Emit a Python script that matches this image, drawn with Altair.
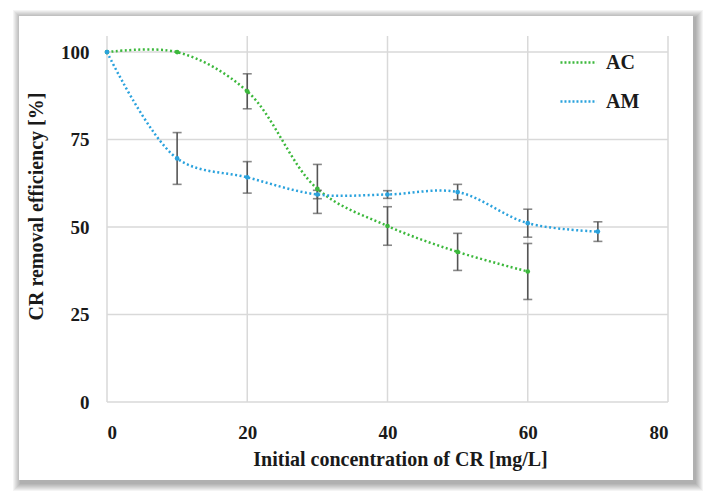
import altair as alt
import pandas as pd

# ---- data ----
ac_x = [0, 10, 20, 30, 40, 50, 60]
ac_y = [100, 100, 88.8, 60.9, 50.3, 42.9, 37.3]
ac_err = [0, 0, 5.0, 7.0, 5.5, 5.3, 8.0]

am_x = [0, 10, 20, 30, 40, 50, 60, 70]
am_y = [100, 69.6, 64.2, 59.3, 59.3, 60.0, 51.1, 48.7]
am_err = [0, 7.4, 4.5, 1.2, 1.1, 2.2, 4.0, 2.8]

series_names = ["AC", "AM"]
series_colors = ["#3cb83c", "#2aa2dd"]
x_ticks = [0, 20, 40, 60, 80]
y_ticks = [0, 25, 50, 75, 100]

rows = []
for x, y, e in zip(ac_x, ac_y, ac_err):
    rows.append({"series": "AC", "x": x, "y": y, "lo": y - e, "hi": y + e, "err": e})
for x, y, e in zip(am_x, am_y, am_err):
    rows.append({"series": "AM", "x": x, "y": y, "lo": y - e, "hi": y + e, "err": e})
df = pd.DataFrame(rows)
df_err = df[df["err"] > 0]
df_xt = pd.DataFrame({"v": x_ticks})
df_yt = pd.DataFrame({"v": y_ticks})

FONT = "Liberation Serif"
W, H = 561, 366
GRID = "#d9d9d9"

xs = alt.Scale(domain=[0, 80], nice=False)
ys = alt.Scale(domain=[0, 104.6], nice=False)
color = alt.Color(
    "series:N",
    scale=alt.Scale(domain=series_names, range=series_colors),
    legend=alt.Legend(
        title=None,
        orient="none",
        legendX=452,
        legendY=7,
        symbolType="stroke",
        symbolStrokeWidth=2.5,
        symbolDash=[2, 2],
        symbolSize=1300,
        labelFont=FONT,
        labelFontSize=20,
        labelFontWeight="bold",
        labelColor="#1a1a1a",
        rowPadding=9,
        labelOffset=8,
    ),
)

# ---- decorative card with soft shadow ----
deco_df = pd.DataFrame({"k": [0]})
shadows = []
for i in range(8):
    d = 8 - i
    shadows.append(
        alt.Chart(deco_df).mark_rect(color="#000000", opacity=0.045, clip=False).encode(
            x=alt.value(-88 - d + 2), x2=alt.value(586 + d + 2),
            y=alt.value(-20 - d + 2), y2=alt.value(444 + d + 3),
        )
    )
card = alt.Chart(deco_df).mark_rect(color="#ffffff", clip=False).encode(
    x=alt.value(-88), x2=alt.value(586), y=alt.value(-20), y2=alt.value(444)
)

vgrid = alt.Chart(df_xt).mark_rule(color=GRID, strokeWidth=1.5).encode(
    x=alt.X("v:Q", scale=xs), y=alt.value(0), y2=alt.value(H)
)
hgrid = alt.Chart(df_yt).mark_rule(color=GRID, strokeWidth=1.5).encode(
    y=alt.Y("v:Q", scale=ys), x=alt.value(0), x2=alt.value(W)
)

base = alt.Chart(df)

lines = base.mark_line(
    interpolate="catmull-rom", strokeDash=[2, 2.5], strokeWidth=2.5
).encode(
    x=alt.X(
        "x:Q", scale=xs,
        axis=alt.Axis(
            values=x_ticks, title="Initial concentration of CR [mg/L]",
            grid=False, domain=False, ticks=False, zindex=1,
            labelFont=FONT, labelFontSize=19, labelFontWeight="bold", labelColor="#1a1a1a",
            labelPadding=21,
            titleFont=FONT, titleFontSize=20, titleFontWeight="bold", titleColor="#1a1a1a",
            titlePadding=7, titleX=293,
        ),
    ),
    y=alt.Y(
        "y:Q", scale=ys,
        axis=alt.Axis(
            values=y_ticks, title="CR removal efficiency  [%]",
            grid=False, domain=False, ticks=False, zindex=1,
            labelFont=FONT, labelFontSize=19, labelFontWeight="bold", labelColor="#1a1a1a",
            labelPadding=18,
            titleFont=FONT, titleFontSize=20, titleFontWeight="bold", titleColor="#1a1a1a",
            titlePadding=14, titleY=170,
        ),
    ),
    color=color,
    order="x:Q",
)

points = base.mark_circle(size=22, opacity=1).encode(
    x=alt.X("x:Q", scale=xs), y=alt.Y("y:Q", scale=ys),
    color=alt.Color("series:N", scale=alt.Scale(domain=series_names, range=series_colors), legend=None),
)

err_rule = alt.Chart(df_err).mark_rule(color="#555555", strokeWidth=1.6).encode(
    x=alt.X("x:Q", scale=xs), y=alt.Y("lo:Q", scale=ys), y2="hi:Q"
)
cap_lo = alt.Chart(df_err).mark_tick(color="#555555", thickness=1.6, size=9, orient="horizontal").encode(
    x=alt.X("x:Q", scale=xs), y=alt.Y("lo:Q", scale=ys)
)
cap_hi = alt.Chart(df_err).mark_tick(color="#555555", thickness=1.6, size=9, orient="horizontal").encode(
    x=alt.X("x:Q", scale=xs), y=alt.Y("hi:Q", scale=ys)
)

chart = alt.layer(
    *shadows, card, vgrid, hgrid, lines, err_rule, cap_lo, cap_hi, points
).properties(
    width=W, height=H,
    autosize=alt.AutoSizeParams(type="none"),
    padding={"left": 107, "top": 36, "right": 42, "bottom": 99},
    background="#ffffff",
).configure_view(stroke=None)

chart.save("out.html", embed_options={"renderer": "svg", "actions": False})
